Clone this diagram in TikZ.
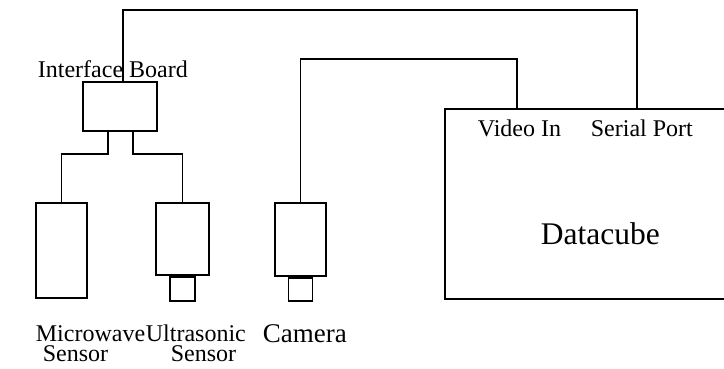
\documentclass[tikz,border=0pt]{standalone}
\usepackage{fontspec}
\setmainfont{Liberation Serif}
\begin{document}
\begin{tikzpicture}[x=1pt,y=-1pt,line width=1.8pt,
  box/.style={draw,rectangle,inner sep=0pt,line width=1.8pt},
  lbl/.style={inner sep=0pt,anchor=base west,font=\fontsize{24}{20}\selectfont},
  wire/.style={line width=1.8pt}]
\useasboundingbox (0,0) rectangle (724,369);
\clip (0,0) rectangle (724,369);
% boxes
\node[box,minimum width=74pt,minimum height=49pt] (ib) at (120,106.5) {};
\node[box,minimum width=51pt,minimum height=95pt] (mw) at (61.5,250.5) {};
\node[box,minimum width=53pt,minimum height=72pt] (us) at (182.5,239) {};
\node[box,minimum width=25pt,minimum height=24pt,anchor=north] (ustip) at (us.south) {};
\node[box,minimum width=51pt,minimum height=73pt] (cam) at (300.5,239.5) {};
\node[box,minimum width=24pt,minimum height=23pt,anchor=north] (camtip) at (cam.south) {};
\node[box,minimum width=300pt,minimum height=190pt,anchor=north west] (dc) at (444,108) {};
% labels
\node[lbl] (ibl) at (37,78) {Interface Board};
\node[lbl] (vin) at (477,137) {Video In};
\node[lbl] (sp) at (590,137) {Serial Port};
\node[inner sep=0pt,anchor=base west,font=\fontsize{31.5}{36}\selectfont] (dcl) at (540,244) {Datacube};
\node[lbl,align=left] (mwl) at (35,361) {Microwave\\\hspace*{7pt}Sensor};
\node[lbl,align=left] (usl) at (145,361) {Ultrasonic\\\hspace*{25pt}Sensor};
\node[lbl,font=\fontsize{27}{30}\selectfont] (caml) at (262,342) {Camera};
% connector coordinates
\coordinate (t1) at (123,10);
\coordinate (t2) at (637,10);
\coordinate (v1) at (300.5,59);
\coordinate (v2) at (517,59);
\coordinate (j1) at (108,154);
\coordinate (j2) at (133,154);
% connectors
\draw[wire] (ib.north -| t1) -- (t1) -- (t2) -- (t2 |- dc.north);
\draw[wire] (cam.north) -- (v1) -- (v2) -- (v2 |- dc.north);
\draw[wire] (ib.south -| j1) -- (j1) -| (mw.north);
\draw[wire] (ib.south -| j2) -- (j2) -| (us.north);
\end{tikzpicture}
\end{document}
